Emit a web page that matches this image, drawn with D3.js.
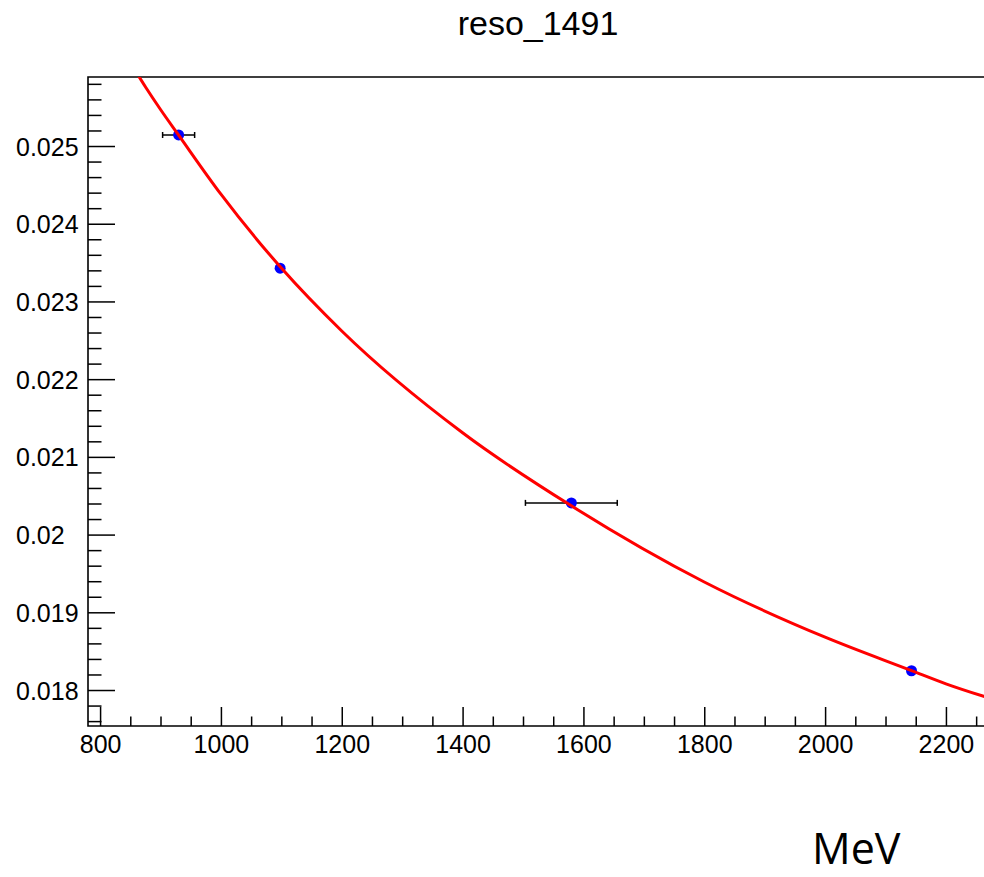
<!DOCTYPE html>
<html>
<head>
<meta charset="utf-8">
<script src="https://cdn.jsdelivr.net/npm/d3@7"></script>
<style>
  body { margin: 0; background: #fff; }
  svg { display: block; }
  text { font-family: "Liberation Sans", Arial, Helvetica, sans-serif; fill: #000; }
</style>
</head>
<body>
<svg id="chart" width="984" height="877"></svg>
<script>
// Resolution vs. energy: measured points with x errors and the fitted curve
const title = "reso_1491";
const unitLabel = "MeV";

const energy    = [930, 1098, 1580, 2143];
const reso      = [0.025142, 0.023428, 0.020408, 0.018248];
const energyErr = [26.5, 0, 76, 0];

const fitEnergy = [855, 876, 900, 930, 1000, 1100, 1200, 1400, 1580, 1800, 2000, 2143, 2200, 2270];
const fitReso   = [0.02601, 0.02575, 0.02547, 0.02514, 0.02438, 0.02343, 0.02262, 0.02131, 0.02037, 0.01939, 0.01868, 0.01825, 0.01808, 0.01790];

const xTickLabels = [800, 1000, 1200, 1400, 1600, 1800, 2000, 2200];
const yTickLabels = [0.018, 0.019, 0.020, 0.021, 0.022, 0.023, 0.024, 0.025];

const frame = { left: 88, top: 77, right: 984, bottom: 726 };

const svg = d3.select("#chart");

const x = d3.scaleLinear().domain([780, 2263]).range([frame.left, frame.right]);
const y = d3.scaleLinear().domain([0.017537, 0.025888]).range([frame.bottom, frame.top]);

// Title
svg.append("text")
  .attr("x", 538).attr("y", 35)
  .attr("text-anchor", "middle")
  .style("font-size", "34px")
  .text(title);

// Minor ticks
const xMinor = d3.range(16, 46).map(i => i * 50).filter(v => v % 200 !== 0 && v <= 2263);
const yMinor = d3.range(88, 130).map(i => +(i * 0.0002).toFixed(4)).filter(v => Math.round(v * 10000) % 10 !== 0);

const gx = svg.append("g").attr("transform", `translate(0,${frame.bottom})`);
gx.call(d3.axisBottom(x).tickValues(xMinor).tickSizeInner(-9.5).tickSizeOuter(0).tickFormat(""));
gx.call(g => g.select(".domain").remove());
const gxMaj = svg.append("g").attr("transform", `translate(0,${frame.bottom})`);
gxMaj.call(d3.axisBottom(x).tickValues(xTickLabels).tickSizeInner(-19).tickSizeOuter(0).tickPadding(9).tickFormat(d3.format("d")));
gxMaj.call(g => g.select(".domain").remove());
gxMaj.selectAll("text").style("font-size", "25px");

const gy = svg.append("g").attr("transform", `translate(${frame.left},0)`);
gy.call(d3.axisLeft(y).tickValues(yMinor).tickSizeInner(-13.5).tickSizeOuter(0).tickFormat(""));
gy.call(g => g.select(".domain").remove());
const gyMaj = svg.append("g").attr("transform", `translate(${frame.left},0)`);
gyMaj.call(d3.axisLeft(y).tickValues(yTickLabels).tickSizeInner(-27).tickSizeOuter(0)
  .tickFormat(d => String(+d.toFixed(3))));
gyMaj.call(g => g.select(".domain").remove());
gyMaj.selectAll("text")
  .style("font-size", "25px")
  .attr("text-anchor", "start")
  .attr("x", 16 - frame.left)
  .attr("dy", "0.36em");

svg.selectAll(".tick line").attr("stroke", "#000").attr("stroke-width", 1.5);

// Frame
svg.append("path")
  .attr("d", `M${frame.right + 2},${frame.top}H${frame.left}V${frame.bottom}H${frame.right + 2}`)
  .attr("fill", "none").attr("stroke", "#000").attr("stroke-width", 1.6);

// Clip region for plotted content
svg.append("clipPath").attr("id", "plotClip")
  .append("rect")
  .attr("x", frame.left).attr("y", frame.top)
  .attr("width", frame.right - frame.left).attr("height", frame.bottom - frame.top);

const plot = svg.append("g").attr("clip-path", "url(#plotClip)");

const pts = energy.map((e, i) => ({ e, r: reso[i], err: energyErr[i] }));

// Horizontal error bars with end caps
const eb = plot.append("g").attr("stroke", "#000").attr("stroke-width", 1.5);
pts.filter(p => p.err > 0).forEach(p => {
  eb.append("line")
    .attr("x1", x(p.e - p.err)).attr("x2", x(p.e + p.err))
    .attr("y1", y(p.r)).attr("y2", y(p.r));
  [p.e - p.err, p.e + p.err].forEach(v => {
    eb.append("line")
      .attr("x1", x(v)).attr("x2", x(v))
      .attr("y1", y(p.r) - 3).attr("y2", y(p.r) + 3);
  });
});

// Markers
plot.append("g").selectAll("circle").data(pts).join("circle")
  .attr("cx", d => x(d.e)).attr("cy", d => y(d.r))
  .attr("r", 5.5).attr("fill", "#0000ff");

// Fitted curve
const fit = fitEnergy.map((e, i) => [e, fitReso[i]]);
plot.append("path")
  .datum(fit)
  .attr("fill", "none")
  .attr("stroke", "#ff0000")
  .attr("stroke-width", 3)
  .attr("d", d3.line().x(d => x(d[0])).y(d => y(d[1])).curve(d3.curveMonotoneX));

// Axis unit
svg.append("text")
  .attr("x", 812).attr("y", 864)
  .style("font-family", "'Open Sans', sans-serif")
  .style("font-size", "43px")
  .text(unitLabel);
</script>
</body>
</html>
